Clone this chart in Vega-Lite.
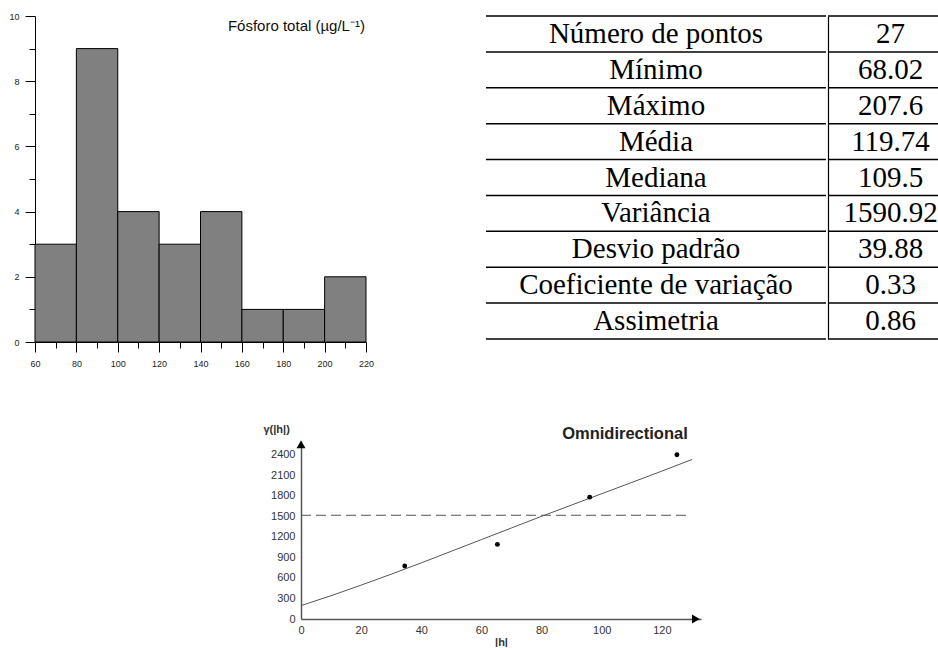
{
  "$schema": "https://vega.github.io/schema/vega-lite/v6.json",
  "background": "white",
  "padding": {"left": 8, "top": 12, "right": 0, "bottom": 0},
  "config": {"view": {"stroke": null}, "font": "Liberation Sans"},
  "datasets": {
    "hist": [
      {"bin_start": 60, "bin_end": 80, "count": 3},
      {"bin_start": 80, "bin_end": 100, "count": 9},
      {"bin_start": 100, "bin_end": 120, "count": 4},
      {"bin_start": 120, "bin_end": 140, "count": 3},
      {"bin_start": 140, "bin_end": 160, "count": 4},
      {"bin_start": 160, "bin_end": 180, "count": 1},
      {"bin_start": 180, "bin_end": 200, "count": 1},
      {"bin_start": 200, "bin_end": 220, "count": 2}
    ],
    "stats": [
      {"row": 1, "stat": "Número de pontos", "value": "27"},
      {"row": 2, "stat": "Mínimo", "value": "68.02"},
      {"row": 3, "stat": "Máximo", "value": "207.6"},
      {"row": 4, "stat": "Média", "value": "119.74"},
      {"row": 5, "stat": "Mediana", "value": "109.5"},
      {"row": 6, "stat": "Variância", "value": "1590.92"},
      {"row": 7, "stat": "Desvio padrão", "value": "39.88"},
      {"row": 8, "stat": "Coeficiente de variação", "value": "0.33"},
      {"row": 9, "stat": "Assimetria", "value": "0.86"}
    ],
    "points": [
      {"h": 34.5, "gamma": 775},
      {"h": 65.3, "gamma": 1090},
      {"h": 96, "gamma": 1780},
      {"h": 125, "gamma": 2400}
    ],
    "model": [
      {"h": 0, "gamma": 196},
      {"h": 10, "gamma": 340},
      {"h": 20, "gamma": 495},
      {"h": 30, "gamma": 655},
      {"h": 40, "gamma": 820},
      {"h": 50, "gamma": 990},
      {"h": 60, "gamma": 1160},
      {"h": 70, "gamma": 1330},
      {"h": 80, "gamma": 1500},
      {"h": 90, "gamma": 1665},
      {"h": 100, "gamma": 1830},
      {"h": 110, "gamma": 1995},
      {"h": 120, "gamma": 2160},
      {"h": 130, "gamma": 2330}
    ],
    "sill": [
      {"h": 0, "gamma": 1515},
      {"h": 128.6, "gamma": 1515}
    ],
    "arrows": [
      {"h": 131.3, "gamma": 0, "dir": "triangle-right"},
      {"h": 0, "gamma": 2550, "dir": "triangle-up"}
    ]
  },
  "vconcat": [
    {
      "hconcat": [
        {
          "width": 331,
          "height": 326,
          "encoding": {
            "x": {
              "type": "quantitative",
              "scale": {"domain": [60, 220], "nice": false, "zero": false},
              "axis": {
                "title": null, "grid": false,
                "values": [60, 70, 80, 90, 100, 110, 120, 130, 140, 150, 160, 170, 180, 190, 200, 210, 220],
                "labelExpr": "datum.value % 20 === 0 ? datum.label : ''",
                "tickSize": {"condition": {"test": "datum.value % 20 === 0", "value": 10}, "value": 6},
                "labelFontSize": 9, "labelPadding": 7, "labelFlush": false, "labelOverlap": false,
                "domainColor": "black", "tickColor": "black", "labelColor": "#222"
              }
            },
            "y": {
              "type": "quantitative",
              "scale": {"domain": [0, 10], "nice": false},
              "axis": {
                "title": null, "grid": false,
                "values": [0, 1, 2, 3, 4, 5, 6, 7, 8, 9, 10],
                "labelExpr": "datum.value % 2 === 0 ? datum.label : ''",
                "tickSize": {"condition": {"test": "datum.value % 2 === 0", "value": 10}, "value": 6},
                "labelFontSize": 9, "labelPadding": 6, "labelFlush": false, "labelOverlap": false,
                "domainColor": "black", "tickColor": "black", "labelColor": "#222"
              }
            }
          },
          "layer": [
            {
              "data": {"name": "hist"},
              "mark": {"type": "bar", "fill": "#808080", "stroke": "black", "strokeWidth": 1},
              "encoding": {
                "x": {"field": "bin_start", "type": "quantitative"},
                "x2": {"field": "bin_end"},
                "y": {"field": "count", "type": "quantitative"},
                "y2": {"datum": 0}
              }
            },
            {
              "data": {"values": [{}]},
              "mark": {"type": "text", "align": "right", "baseline": "alphabetic", "fontSize": 15, "font": "Liberation Sans", "color": "#111", "text": "Fósforo total (µg/L⁻¹)"},
              "encoding": {"x": {"datum": 219.5}, "y": {"datum": 9.53}}
            }
          ]
        },
        {
          "hconcat": [
            {
              "width": 340,
              "height": 323,
              "data": {"name": "stats"},
              "layer": [
                {
                  "mark": {"type": "text", "font": "Liberation Serif", "fontSize": 29, "baseline": "middle", "color": "black"},
                  "encoding": {
                    "y": {"field": "row", "type": "ordinal", "scale": {"type": "band", "paddingInner": 0, "paddingOuter": 0}, "axis": null},
                    "text": {"field": "stat"}
                  }
                },
                {
                  "mark": {"type": "rule", "strokeWidth": 1.5, "color": "black"},
                  "encoding": {"y": {"field": "row", "type": "ordinal", "bandPosition": 0}}
                },
                {
                  "transform": [{"filter": "datum.row === 9"}],
                  "mark": {"type": "rule", "strokeWidth": 1.5, "color": "black"},
                  "encoding": {"y": {"field": "row", "type": "ordinal", "bandPosition": 1}}
                }
              ]
            },
            {
              "width": 111,
              "height": 323,
              "data": {"name": "stats"},
              "layer": [
                {
                  "mark": {"type": "text", "font": "Liberation Serif", "fontSize": 29, "baseline": "middle", "color": "black", "dx": 7},
                  "encoding": {
                    "y": {"field": "row", "type": "ordinal", "scale": {"type": "band", "paddingInner": 0, "paddingOuter": 0},
                      "axis": {"title": null, "labels": false, "ticks": false, "grid": false, "domain": true, "domainColor": "black", "domainWidth": 1.2}},
                    "text": {"field": "value"}
                  }
                },
                {
                  "mark": {"type": "rule", "strokeWidth": 1.5, "color": "black"},
                  "encoding": {"y": {"field": "row", "type": "ordinal", "bandPosition": 0}}
                },
                {
                  "transform": [{"filter": "datum.row === 9"}],
                  "mark": {"type": "rule", "strokeWidth": 1.5, "color": "black"},
                  "encoding": {"y": {"field": "row", "type": "ordinal", "bandPosition": 1}}
                }
              ]
            }
          ],
          "spacing": 0
        }
      ],
      "spacing": 111
    },
    {
      "hconcat": [
        {
          "width": 175,
          "height": 10,
          "data": {"values": [{}]},
          "mark": {"type": "text", "text": " ", "opacity": 0},
          "encoding": {}
        },
        {
          "width": 400,
          "height": 178,
          "encoding": {
            "x": {
              "type": "quantitative",
              "scale": {"domain": [0, 133], "nice": false},
              "axis": {
                "title": "|h|", "titleFontWeight": "bold", "titleFontSize": 11, "titlePadding": 1, "titleColor": "#333",
                "values": [0, 20, 40, 60, 80, 100, 120], "grid": false, "ticks": false, "format": "d",
                "domainColor": "#555", "domainWidth": 1.5, "labelFontSize": 11, "labelColor": "#333",
                "labelPadding": 5, "labelFlush": false, "labelOverlap": false
              }
            },
            "y": {
              "type": "quantitative",
              "scale": {"domain": [0, 2600], "nice": false},
              "axis": {
                "title": "γ(|h|)", "titleAngle": 0, "titleX": -38, "titleY": -12, "titleAlign": "left", "titleBaseline": "middle",
                "titleFontWeight": "bold", "titleFontSize": 11, "titleColor": "#333",
                "values": [0, 300, 600, 900, 1200, 1500, 1800, 2100, 2400], "grid": false, "ticks": false, "format": "d",
                "domainColor": "#555", "domainWidth": 1.5, "labelFontSize": 11, "labelColor": "#333",
                "labelPadding": 6, "labelFlush": false, "labelOverlap": false
              }
            }
          },
          "layer": [
            {
              "data": {"name": "sill"},
              "mark": {"type": "line", "strokeDash": [10, 5], "color": "#555", "strokeWidth": 1},
              "encoding": {"x": {"field": "h", "type": "quantitative"}, "y": {"field": "gamma", "type": "quantitative"}}
            },
            {
              "data": {"name": "model"},
              "mark": {"type": "line", "color": "#555", "strokeWidth": 1},
              "encoding": {"x": {"field": "h", "type": "quantitative"}, "y": {"field": "gamma", "type": "quantitative"}}
            },
            {
              "data": {"name": "points"},
              "mark": {"type": "point", "filled": true, "color": "black", "size": 24, "opacity": 1},
              "encoding": {"x": {"field": "h", "type": "quantitative"}, "y": {"field": "gamma", "type": "quantitative"}}
            },
            {
              "data": {"name": "arrows"},
              "mark": {"type": "point", "filled": true, "color": "black", "size": 80, "opacity": 1},
              "encoding": {
                "x": {"field": "h", "type": "quantitative"},
                "y": {"field": "gamma", "type": "quantitative"},
                "shape": {"field": "dir", "type": "nominal", "scale": null, "legend": null}
              }
            },
            {
              "data": {"values": [{}]},
              "mark": {"type": "text", "align": "right", "baseline": "alphabetic", "fontSize": 16.5, "fontWeight": "bold", "font": "Liberation Sans", "color": "#222", "text": "Omnidirectional"},
              "encoding": {"x": {"datum": 128.6}, "y": {"datum": 2634}}
            }
          ]
        }
      ],
      "spacing": 53
    }
  ],
  "spacing": 55
}
